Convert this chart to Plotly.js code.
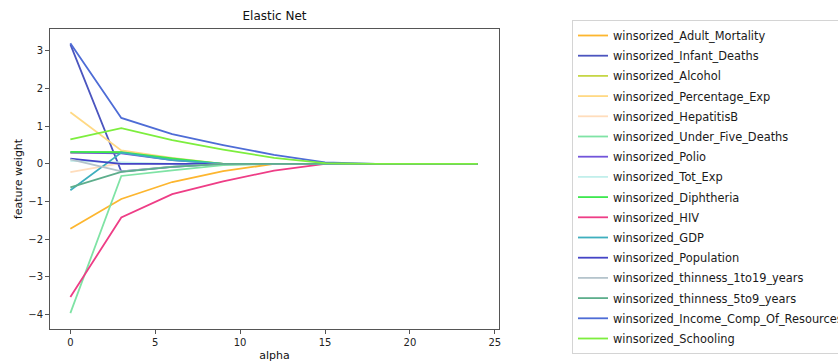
<!DOCTYPE html>
<html>
<head>
<meta charset="utf-8">
<script src="https://cdn.plot.ly/plotly-3.0.1.min.js"></script>
<style>html,body{margin:0;padding:0;background:#fff;} #chart{width:838px;height:362px;}</style>
</head>
<body>
<div id="chart"></div>
<script>
const alphas = [0, 3, 6, 9, 12, 15, 18, 21, 24];

const seriesNames = [
  "winsorized_Adult_Mortality",
  "winsorized_Infant_Deaths",
  "winsorized_Alcohol",
  "winsorized_Percentage_Exp",
  "winsorized_HepatitisB",
  "winsorized_Under_Five_Deaths",
  "winsorized_Polio",
  "winsorized_Tot_Exp",
  "winsorized_Diphtheria",
  "winsorized_HIV",
  "winsorized_GDP",
  "winsorized_Population",
  "winsorized_thinness_1to19_years",
  "winsorized_thinness_5to9_years",
  "winsorized_Income_Comp_Of_Resources",
  "winsorized_Schooling"
];

const adultMortality   = [-1.72, -0.93, -0.48, -0.19, 0, 0, 0, 0, 0];
const infantDeaths     = [3.17, -0.20, -0.08, 0, 0, 0, 0, 0, 0];
const alcohol          = [0.30, 0.31, 0.13, 0, 0, 0, 0, 0, 0];
const percentageExp    = [1.37, 0.36, 0.16, 0, 0, 0, 0, 0, 0];
const hepatitisB       = [-0.22, 0.02, 0, 0, 0, 0, 0, 0, 0];
const underFiveDeaths  = [-3.96, -0.32, -0.17, -0.03, 0, 0, 0, 0, 0];
const polio            = [0.30, 0.28, 0.10, 0, 0, 0, 0, 0, 0];
const totExp           = [0.08, 0.04, 0, 0, 0, 0, 0, 0, 0];
const diphtheria       = [0.32, 0.31, 0.15, 0, 0, 0, 0, 0, 0];
const hiv              = [-3.53, -1.42, -0.80, -0.46, -0.18, 0, 0, 0, 0];
const gdp              = [-0.70, 0.30, 0.10, 0, 0, 0, 0, 0, 0];
const population       = [0.14, 0.0, 0.0, 0, 0, 0, 0, 0, 0];
const thinness1to19    = [0.12, -0.20, -0.07, 0, 0, 0, 0, 0, 0];
const thinness5to9     = [-0.62, -0.21, -0.08, 0, 0, 0, 0, 0, 0];
const incomeComp       = [3.20, 1.22, 0.79, 0.50, 0.24, 0.04, 0, 0, 0];
const schooling        = [0.65, 0.95, 0.63, 0.38, 0.16, 0.02, 0, 0, 0];

const seriesValues = [adultMortality, infantDeaths, alcohol, percentageExp, hepatitisB,
  underFiveDeaths, polio, totExp, diphtheria, hiv, gdp, population, thinness1to19,
  thinness5to9, incomeComp, schooling];

const seriesColors = ["#FDB62F", "#4B55BF", "#C6D647", "#FFD984", "#FFDDBC", "#7FE3A5",
  "#7255DA", "#C2EFEB", "#3DE84F", "#EE3D86", "#3EAFBE", "#4444C6", "#B5C4CC",
  "#5DAE8C", "#4E6CD6", "#7DEE3E"];

const xTicks = [0, 5, 10, 15, 20, 25];
const yTicks = [-4, -3, -2, -1, 0, 1, 2, 3];

const traces = seriesNames.map((n, i) => ({
  type: "scatter", mode: "lines", name: n, legendgroup: n,
  x: alphas, y: seriesValues[i],
  line: {color: seriesColors[i], width: 1.8}
}));

const axisCommon = {
  showline: true, mirror: true, linecolor: "#555", linewidth: 1,
  ticks: "outside", ticklen: 4, tickcolor: "#555", tickwidth: 1,
  showgrid: false, zeroline: false, automargin: false,
  tickfont: {family: "DejaVu Sans", size: 10, color: "#222"}
};

const layout = {
  width: 838, height: 362,
  margin: {l: 50, r: 339, t: 29, b: 33, autoexpand: false},
  paper_bgcolor: "#fff", plot_bgcolor: "#fff",
  font: {family: "DejaVu Sans", color: "#222"},
  title: {text: "Elastic Net", x: 0.5, xref: "paper", y: 1 - 16/362, yref: "container",
          yanchor: "middle", font: {size: 12, family: "DejaVu Sans", color: "#111"}},
  xaxis: Object.assign({}, axisCommon, {
    range: [-1.2, 25.25], tickvals: xTicks, ticktext: xTicks.map(String),
    title: {text: "alpha", standoff: 4, font: {size: 11, family: "DejaVu Sans", color: "#111"}}
  }),
  yaxis: Object.assign({}, axisCommon, {
    range: [-4.38, 3.58], tickvals: yTicks, ticktext: yTicks.map(v => v < 0 ? "\u2212" + Math.abs(v) : String(v)),
    title: {text: "feature weight", standoff: 3, font: {size: 11, family: "DejaVu Sans", color: "#111"}}
  }),
  showlegend: true,
  legend: {
    xref: "container", yref: "container",
    x: 572/838, xanchor: "left", y: 1 - 20/362, yanchor: "top",
    bordercolor: "#d4d4d4", borderwidth: 1, bgcolor: "#fff",
    font: {size: 11.4, family: "DejaVu Sans", color: "#1a1a1a"},
    itemwidth: 30, tracegroupgap: 1.2, maxheight: 400
  }
};

Plotly.newPlot("chart", traces, layout, {displayModeBar: false, staticPlot: true});
</script>
</body>
</html>
